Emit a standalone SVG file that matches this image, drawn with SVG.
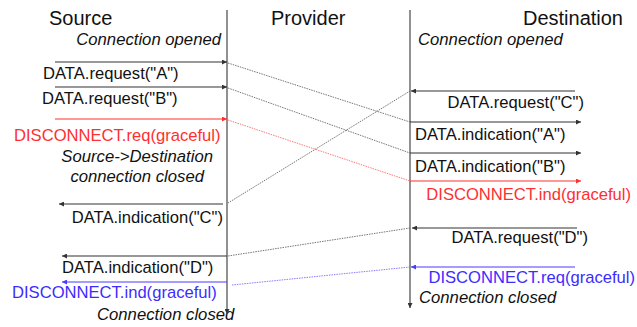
<svg xmlns="http://www.w3.org/2000/svg" width="637" height="327" viewBox="0 0 637 327">
  <style>
    text { font-family: "Liberation Sans", Arial, Helvetica, sans-serif; font-size: 16.6px; fill: #111; }
    .head { font-size: 20px; }
    .note { font-style: italic; font-size: 16.7px; }
    .red { fill: #ff2f2f; }
    .blue { fill: #3d2cff; }
    .life { stroke: #555; stroke-width: 1.3; fill: none; }
    .prim { stroke: #333; stroke-width: 1.1; fill: none; }
    .prim.r { stroke: #ff3030; }
    .prim.b { stroke: #4a3cff; }
    .transit { stroke: #666; stroke-width: 0.9; stroke-dasharray: 1.5 1; fill: none; }
    .transit.r { stroke: #ff6a6a; }
    .transit.b { stroke: #7a6cff; }
  </style>
  <defs>
    <marker id="ah" viewBox="0 0 6 6" refX="6" refY="3" markerWidth="6" markerHeight="5" markerUnits="userSpaceOnUse" orient="auto">
      <path d="M0,0 L6,3 L0,6 z" fill="#333"/>
    </marker>
    <marker id="ahRed" viewBox="0 0 6 6" refX="6" refY="3" markerWidth="6" markerHeight="5" markerUnits="userSpaceOnUse" orient="auto">
      <path d="M0,0 L6,3 L0,6 z" fill="#ff3030"/>
    </marker>
    <marker id="ahBlue" viewBox="0 0 6 6" refX="6" refY="3" markerWidth="6" markerHeight="5" markerUnits="userSpaceOnUse" orient="auto">
      <path d="M0,0 L6,3 L0,6 z" fill="#4a3cff"/>
    </marker>
  </defs>

  <!-- Source user side -->
  <g id="source">
    <text class="head" x="49" y="25">Source</text>
    <text class="note" x="221" y="45" text-anchor="end">Connection opened</text>
    <text class="note" x="213" y="162" text-anchor="end">Source-&gt;Destination</text>
    <text class="note" x="204" y="182" text-anchor="end">connection closed</text>
    <text class="note" x="97" y="320">Connection closed</text>
  </g>

  <!-- Provider boundary lines -->
  <g id="provider">
    <text class="head" x="271" y="25">Provider</text>
    <line class="life" x1="227" y1="10" x2="227" y2="314" marker-end="url(#ah)"/>
    <line class="life" x1="410" y1="10" x2="410" y2="308" marker-end="url(#ah)"/>
  </g>

  <!-- Destination user side -->
  <g id="destination">
    <text class="head" x="623" y="25" text-anchor="end">Destination</text>
    <text class="note" x="418" y="45">Connection opened</text>
    <text class="note" x="419" y="303">Connection closed</text>
  </g>

  <!-- Service primitives and their transit through the provider -->
  <g id="connectors">
    <!-- Source requests -->
    <line class="prim" x1="55" y1="62" x2="227" y2="62" marker-end="url(#ah)"/>
    <line class="prim" x1="55" y1="87" x2="227" y2="87" marker-end="url(#ah)"/>
    <line class="prim r" x1="55" y1="119" x2="227" y2="119" marker-end="url(#ahRed)"/>
    <!-- Destination indications -->
    <line class="prim" x1="410" y1="122" x2="581" y2="122" marker-end="url(#ah)"/>
    <line class="prim" x1="410" y1="153" x2="581" y2="153" marker-end="url(#ah)"/>
    <line class="prim r" x1="410" y1="181" x2="581" y2="181" marker-end="url(#ahRed)"/>
    <!-- Destination requests -->
    <line class="prim" x1="575" y1="91" x2="411" y2="91" marker-end="url(#ah)"/>
    <line class="prim" x1="577" y1="228" x2="412" y2="228" marker-end="url(#ah)"/>
    <line class="prim b" x1="575" y1="267" x2="411" y2="267" marker-end="url(#ahBlue)"/>
    <!-- Source indications -->
    <line class="prim" x1="223" y1="204" x2="59" y2="204" marker-end="url(#ah)"/>
    <line class="prim" x1="227" y1="256" x2="62" y2="256" marker-end="url(#ah)"/>
    <line class="prim b" x1="227" y1="282" x2="62" y2="282" marker-end="url(#ahBlue)"/>
    <!-- Transit through the provider -->
    <line class="transit" x1="228" y1="63" x2="410" y2="122"/>
    <line class="transit" x1="228" y1="88" x2="410" y2="153"/>
    <line class="transit r" x1="228" y1="120" x2="410" y2="181"/>
    <line class="transit" x1="410" y1="91" x2="228" y2="203"/>
    <line class="transit" x1="410" y1="228" x2="228" y2="256"/>
    <line class="transit b" x1="410" y1="267" x2="232" y2="285"/>
  </g>

  <!-- Primitive labels -->
  <g id="labels">
    <text x="43" y="79">DATA.request("A")</text>
    <text x="42" y="104">DATA.request("B")</text>
    <text class="red" x="14" y="141">DISCONNECT.req(graceful)</text>
    <text x="223" y="223" text-anchor="end">DATA.indication("C")</text>
    <text x="62" y="273">DATA.indication("D")</text>
    <text class="blue" x="12" y="298">DISCONNECT.ind(graceful)</text>
    <text x="584" y="108" text-anchor="end">DATA.request("C")</text>
    <text x="415" y="140">DATA.indication("A")</text>
    <text x="415" y="172">DATA.indication("B")</text>
    <text class="red" x="631" y="200" text-anchor="end">DISCONNECT.ind(graceful)</text>
    <text x="588" y="243" text-anchor="end">DATA.request("D")</text>
    <text class="blue" x="635" y="283" text-anchor="end">DISCONNECT.req(graceful)</text>
  </g>
</svg>
